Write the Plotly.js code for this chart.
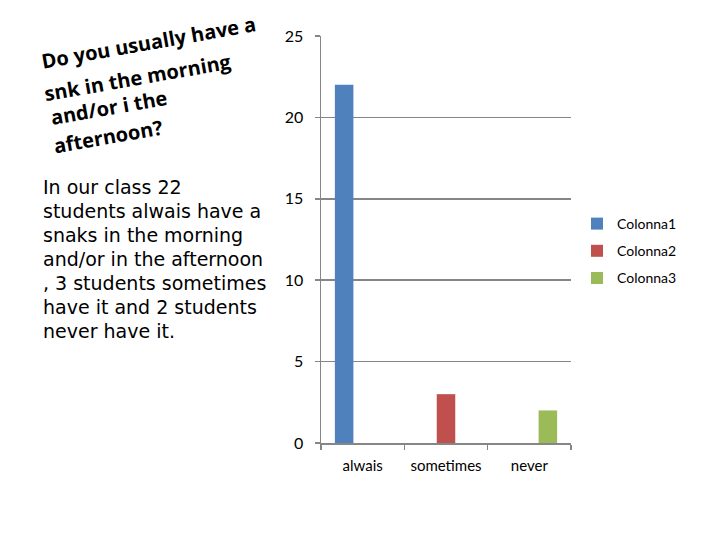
<!DOCTYPE html>
<html>
<head>
<meta charset="utf-8">
<script src="https://cdn.plot.ly/plotly-3.0.1.min.js"></script>
<style>html,body{margin:0;padding:0;background:#fff;}#chart{width:720px;height:540px;}</style>
</head>
<body>
<div id="chart"></div>
<script>
const categories = ["alwais", "sometimes", "never"];
const seriesNames = ["Colonna1", "Colonna2", "Colonna3"];
const colonna1 = [22, 0, 0];
const colonna2 = [0, 3, 0];
const colonna3 = [0, 0, 2];
const seriesColors = ["#4F81BD", "#C0504D", "#9BBB59"];
const titleLines = ["Do you usually have a", "snk in the morning", "and/or i the", "afternoon?"];
const paragraphLines = ["In our class 22", "students alwais have a", "snaks in the morning", "and/or in the afternoon", ", 3 students sometimes", "have it and 2 students", "never have it."];

const values = [colonna1, colonna2, colonna3];
const traces = seriesNames.map((name, i) => ({
  type: "bar",
  name: name,
  x: categories,
  y: values[i],
  legendgroup: name,
  marker: {color: seriesColors[i], line: {width: 0}}
}));

const W = 720, H = 540;
// left edge (x) and center (y) of each rotated title line
const titleAnchors = [[37, 42], [40, 77], [46, 107], [49, 136]];
const annotations = [];
titleLines.forEach((t, i) => {
  annotations.push({
    xref: "paper", yref: "paper",
    x: (titleAnchors[i][0] - 321) / 250,
    y: (443 - titleAnchors[i][1]) / 407,
    text: "<b>" + t + "</b>",
    showarrow: false,
    textangle: -10,
    xanchor: "left", yanchor: "middle",
    font: {family: "Open Sans", size: 20, color: "#000"}
  });
});
paragraphLines.forEach((t, i) => {
  annotations.push({
    xref: "paper", yref: "paper",
    x: (41 - 321) / 250,
    y: (443 - (187 + i * 24)) / 407,
    text: t,
    showarrow: false,
    xanchor: "left", yanchor: "middle",
    font: {family: "DejaVu Sans", size: 19, color: "#000"}
  });
});

const layout = {
  width: W, height: H,
  margin: {l: 321, r: 149, t: 36, b: 97},
  paper_bgcolor: "#fff", plot_bgcolor: "#fff",
  barmode: "group",
  bargap: 0.333,
  bargroupgap: 0,
  font: {family: "Lato", size: 16, color: "#000"},
  xaxis: {
    showline: true, linecolor: "#868686", linewidth: 1.5,
    ticks: "outside", tickson: "boundaries", ticklen: 5, tickcolor: "#868686", tickwidth: 1.5,
    showgrid: false, zeroline: false,
    tickangle: 0,
    ticklabelstandoff: 8,
    tickfont: {family: "Lato", size: 15, color: "#000"}
  },
  yaxis: {
    range: [0, 25], dtick: 5, tick0: 0,
    showline: true, linecolor: "#868686", linewidth: 1.5,
    ticks: "outside", ticklen: 5, tickcolor: "#868686", tickwidth: 1.5,
    showgrid: true, gridcolor: "#868686", gridwidth: 1.5,
    zeroline: false,
    ticklabelstandoff: 8,
    tickfont: {family: "Lato", size: 16, color: "#000"}
  },
  legend: {
    x: (577 - 321) / 250, y: (443 - 208) / 407,
    xanchor: "left", yanchor: "top",
    traceorder: "grouped",
    tracegroupgap: 6,
    font: {family: "Lato", size: 14, color: "#000"},
    bgcolor: "rgba(0,0,0,0)",
    itemwidth: 30
  },
  annotations: annotations,
  showlegend: true
};

Plotly.newPlot("chart", traces, layout, {displayModeBar: false, staticPlot: true});
</script>
</body>
</html>
